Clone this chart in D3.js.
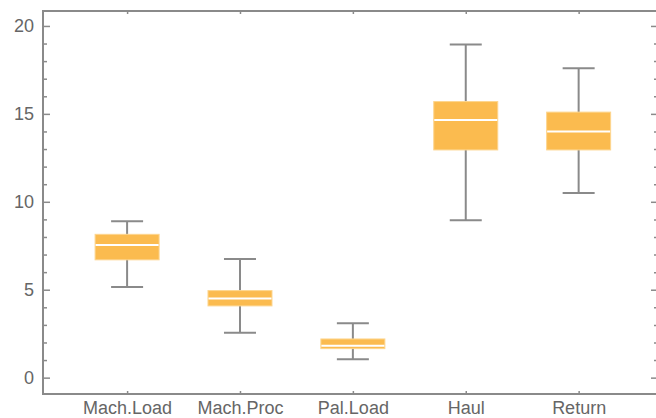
<!DOCTYPE html>
<html>
<head>
<meta charset="utf-8">
<script src="https://cdn.jsdelivr.net/npm/d3@7"></script>
<style>
  body { margin: 0; background: #fff; }
  svg { display: block; }
  .axis text { font-family: "Liberation Sans", Arial, sans-serif; font-size: 18px; fill: #666; }
  .axis line { stroke: #8a8a8a; stroke-width: 1.5; }
  .axis path { display: none; }
</style>
</head>
<body>
<svg></svg>
<script>
const svg = d3.select('svg');
svg.attr('width', 656).attr('height', 418);

// data
const categories = ['Mach.Load', 'Mach.Proc', 'Pal.Load', 'Haul', 'Return'];
const whiskerLow = [5.15, 2.55, 1.05, 8.95, 10.5];
const q1 = [6.7, 4.08, 1.65, 12.95, 12.95];
const medians = [7.55, 4.5, 1.82, 14.65, 14.0];
const q3 = [8.15, 4.95, 2.2, 15.7, 15.1];
const whiskerHigh = [8.9, 6.75, 3.1, 18.95, 17.6];
const yTicks = [0, 5, 10, 15, 20];

const LEFT = 43, RIGHT = 658, TOP = 11, BOTTOM = 394;
const BOX_W = 64, CAP_W = 32;

const x = d3.scaleLinear().domain([-0.745, 4.703]).range([LEFT, RIGHT]);
const y = d3.scaleLinear().domain([-0.93, 20.85]).range([BOTTOM, TOP]);

const minorTicks = d3.range(0, 21).filter(v => v % 5 !== 0);

// Left axis (labels + major ticks)
const yAxisLeft = d3.axisLeft(y).tickValues(yTicks).tickSize(-7).tickPadding(9);
svg.append('g').attr('class', 'axis').attr('transform', `translate(${LEFT},0)`).call(yAxisLeft);

// Left minor ticks
const yMinorLeft = d3.axisLeft(y).tickValues(minorTicks).tickSize(-4).tickFormat('');
svg.append('g').attr('class', 'axis').attr('transform', `translate(${LEFT},0)`).call(yMinorLeft);

// Right ticks
const yAxisRight = d3.axisRight(y).tickValues(yTicks).tickSize(-7).tickFormat('');
svg.append('g').attr('class', 'axis').attr('transform', `translate(${RIGHT},0)`).call(yAxisRight);
const yMinorRight = d3.axisRight(y).tickValues(minorTicks).tickSize(-4).tickFormat('');
svg.append('g').attr('class', 'axis').attr('transform', `translate(${RIGHT},0)`).call(yMinorRight);

// Bottom axis with category names
const idx = d3.range(categories.length);
const xAxisBottom = d3.axisBottom(x).tickValues(idx).tickSize(-3).tickPadding(7)
    .tickFormat(i => categories[i]);
svg.append('g').attr('class', 'axis').attr('transform', `translate(0,${BOTTOM})`).call(xAxisBottom);

// Top ticks
const xAxisTop = d3.axisTop(x).tickValues(idx).tickSize(-3).tickFormat('');
svg.append('g').attr('class', 'axis').attr('transform', `translate(0,${TOP})`).call(xAxisTop);

// Frame
svg.append('rect')
    .attr('x', LEFT).attr('y', TOP)
    .attr('width', RIGHT - LEFT).attr('height', BOTTOM - TOP)
    .attr('fill', 'none').attr('stroke', '#8a8a8a').attr('stroke-width', 2);

// Boxes
const boxes = svg.append('g').selectAll('g').data(idx).join('g');

boxes.append('line')
    .attr('x1', i => x(i)).attr('x2', i => x(i))
    .attr('y1', i => y(whiskerLow[i])).attr('y2', i => y(whiskerHigh[i]))
    .attr('stroke', '#8a8a8a').attr('stroke-width', 2);

boxes.selectAll('line.cap')
    .data(i => [[i, whiskerLow[i]], [i, whiskerHigh[i]]])
    .join('line').attr('class', 'cap')
    .attr('x1', d => x(d[0]) - CAP_W / 2).attr('x2', d => x(d[0]) + CAP_W / 2)
    .attr('y1', d => y(d[1])).attr('y2', d => y(d[1]))
    .attr('stroke', '#8a8a8a').attr('stroke-width', 2);

boxes.append('rect')
    .attr('x', i => x(i) - BOX_W / 2).attr('width', BOX_W)
    .attr('y', i => y(q3[i])).attr('height', i => y(q1[i]) - y(q3[i]))
    .attr('fill', '#fbbb4f').attr('stroke', '#fdd58e').attr('stroke-width', 1);

boxes.append('line')
    .attr('x1', i => x(i) - BOX_W / 2 + 0.5).attr('x2', i => x(i) + BOX_W / 2 - 0.5)
    .attr('y1', i => y(medians[i])).attr('y2', i => y(medians[i]))
    .attr('stroke', '#fff').attr('stroke-width', 2);
</script>
</body>
</html>
